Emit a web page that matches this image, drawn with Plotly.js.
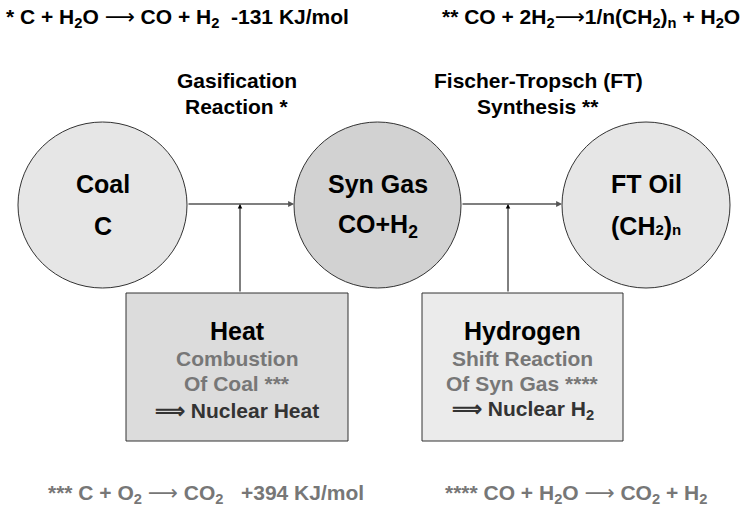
<!DOCTYPE html>
<html><head><meta charset="utf-8">
<script src="https://cdn.plot.ly/plotly-3.0.1.min.js"></script>
<style>html,body{margin:0;padding:0;background:#fff;}</style>
</head><body><div id="chart" style="width:744px;height:508px;"></div>
<script>
// ---- content ----
const ARR = '<span style="font-family:DejaVu Sans;font-weight:normal">\u27F6</span>';
const nodeNames = ['Coal', 'Syn Gas', 'FT Oil'];
const nodeFormulas = ['C', 'CO+H<sub>2</sub>', '(CH<span style="font-size:15px">2</span>)<span style="font-size:15px">n</span>'];
const processTitles = [['Gasification', 'Reaction *'], ['Fischer-Tropsch (FT)', 'Synthesis **']];
const boxTitles = ['Heat', 'Hydrogen'];
const boxSubtitles = [['Combustion', 'Of Coal ***'], ['Shift Reaction', 'Of Syn Gas ****']];
const boxNuclear = ['\u27F9 Nuclear Heat', '\u27F9 Nuclear H<sub>2</sub>'];
const topEquations = ['* C + H<sub>2</sub>O ' + ARR + ' CO + H<sub>2</sub>\u00a0 -131 KJ/mol',
                      '** CO + 2H<sub>2</sub>' + ARR + '1/n(CH<sub>2</sub>)<sub>n</sub> + H<sub>2</sub>O'];
const bottomEquations = ['*** C + O<sub>2</sub> ' + ARR + ' CO<sub>2</sub> \u00a0 +394 KJ/mol',
                         '**** CO + H<sub>2</sub>O ' + ARR + ' CO<sub>2</sub> + H<sub>2</sub>'];

// ---- geometry ----
const circX = [[18, 187], [294, 461], [562, 730]];
const circY = [122, 288];
const arrowY = 204;
const boxX = [[126, 348], [422, 623]];
const boxY = [293, 441];
const feedX = [240, 508];
const circFill = ['#e6e6e6', '#d2d2d2', '#e6e6e6'];
const boxFill = ['#dcdcdc', '#ebebeb'];
const FONT = 'Liberation Sans, Arial, Helvetica, sans-serif';

const shapes = [];
const ann = [];
function txt(x, y, t, size, color, anchor) {
  ann.push({x: x, y: y, xref: 'x', yref: 'y', text: '<b>' + t + '</b>', showarrow: false,
    xanchor: anchor || 'center', yanchor: 'middle',
    font: {family: FONT, size: size, color: color || '#000'}});
}

nodeNames.forEach((n, i) => {
  shapes.push({type: 'circle', xref: 'x', yref: 'y', x0: circX[i][0], x1: circX[i][1], y0: circY[0], y1: circY[1],
    fillcolor: circFill[i], line: {color: '#333', width: 1}, layer: 'below'});
  const cx = (circX[i][0] + circX[i][1]) / 2;
  txt(cx, 184, n, 25);
  txt(cx, 226, nodeFormulas[i], 25);
});

// horizontal arrows between circles
for (let i = 0; i < 2; i++) {
  ann.push({x: circX[i + 1][0], y: arrowY, ax: circX[i][1], ay: arrowY, xref: 'x', yref: 'y', axref: 'x', ayref: 'y',
    text: '', showarrow: true, arrowhead: 2, arrowsize: 0.9, arrowwidth: 1.3, arrowcolor: '#555'});
}

boxTitles.forEach((t, i) => {
  shapes.push({type: 'rect', xref: 'x', yref: 'y', x0: boxX[i][0], x1: boxX[i][1], y0: boxY[0], y1: boxY[1],
    fillcolor: boxFill[i], line: {color: '#333', width: 1}, layer: 'below'});
  const cx = (boxX[i][0] + boxX[i][1]) / 2;
  txt(cx, 331, t, 25, '#000');
  txt(cx, 358, boxSubtitles[i][0], 21, '#777');
  txt(cx, 383, boxSubtitles[i][1], 21, '#777');
  txt(cx, 410, boxNuclear[i], 21, '#333');
  // vertical feed arrow
  ann.push({x: feedX[i], y: arrowY, ax: feedX[i], ay: boxY[0], xref: 'x', yref: 'y', axref: 'x', ayref: 'y',
    text: '', showarrow: true, arrowhead: 2, arrowsize: 0.9, arrowwidth: 1, arrowcolor: '#000'});
});

processTitles.forEach((p, i) => {
  const cx = i === 0 ? 237 : 538;
  txt(cx, 80, p[0], 21);
  txt(cx, 106, p[1], 21);
});

txt(4, 18, topEquations[0], 21, '#000', 'left');
txt(742, 18, topEquations[1], 21, '#000', 'right');
txt(46, 494, bottomEquations[0], 21, '#777', 'left');
txt(443, 494, bottomEquations[1], 21, '#777', 'left');

const layout = {
  width: 744, height: 508, margin: {l: 0, r: 0, t: 0, b: 0},
  paper_bgcolor: '#fff', plot_bgcolor: '#fff', showlegend: false,
  xaxis: {range: [0, 744], visible: false, fixedrange: true},
  yaxis: {range: [508, 0], visible: false, fixedrange: true},
  shapes: shapes, annotations: ann
};
Plotly.newPlot('chart', [{x: [], y: [], type: 'scatter', mode: 'markers'}], layout, {staticPlot: true, displayModeBar: false});
</script></body></html>
